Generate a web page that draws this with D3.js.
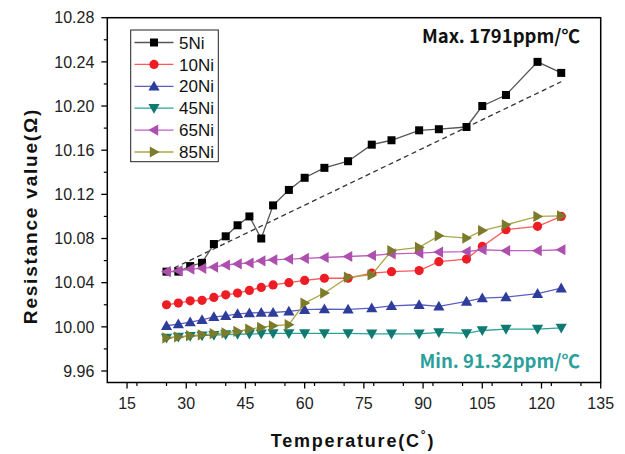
<!DOCTYPE html>
<html><head><meta charset="utf-8">
<script src="https://cdn.jsdelivr.net/npm/d3@7"></script>
<style>body{margin:0;background:#fff}svg{display:block}</style>
</head><body>
<script>
const temps = [25,28,31,34,37,40,43,46,49,52,56,60,65,71,77,82,89,94,101,105,111,119,125];
const ni5  = [10.050,10.050,10.055,10.058,10.075,10.082,10.092,10.100,10.080,10.110,10.124,10.135,10.144,10.150,10.165,10.169,10.178,10.179,10.181,10.200,10.210,10.240,10.230];
const ni10 = [10.020,10.0215,10.0236,10.024,10.0266,10.029,10.0306,10.033,10.0357,10.038,10.040,10.042,10.044,10.044,10.0487,10.050,10.051,10.059,10.0614,10.0728,10.088,10.091,10.100];
const ni20 = [10.001,10.0025,10.0043,10.0064,10.009,10.010,10.0118,10.0125,10.013,10.013,10.014,10.0155,10.016,10.0158,10.017,10.019,10.020,10.0185,10.023,10.026,10.027,10.030,10.035];
const ni45 = [9.990,9.9908,9.9915,9.992,9.9925,9.993,9.9933,9.9936,9.9938,9.994,9.994,9.994,9.994,9.994,9.9937,9.9937,9.9937,9.995,9.994,9.9967,9.998,9.998,9.999];
const ni65 = [10.050,10.0507,10.0523,10.053,10.0541,10.056,10.057,10.0578,10.0598,10.0607,10.0614,10.062,10.0628,10.0637,10.0646,10.0661,10.0668,10.0677,10.0682,10.0698,10.069,10.069,10.0698];
const ni85 = [9.990,9.9908,9.992,9.9928,9.9938,9.9945,9.9959,9.998,9.9995,10.001,10.002,10.0215,10.0306,10.045,10.047,10.069,10.072,10.0824,10.0804,10.0872,10.0924,10.100,10.1005];
const seriesNames = ["5Ni","10Ni","20Ni","45Ni","65Ni","85Ni"];
const fitLine = [[25,10.050],[125,10.222]];
const xTicks = [15,30,45,60,75,90,105,120,135];
const yTicks = [9.96,10.00,10.04,10.08,10.12,10.16,10.20,10.24,10.28];
const maxLabel = "Max. 1791ppm/℃";
const minLabel = "Min. 91.32ppm/℃";

const W=625,H=454;
const m={l:107.3,r:600.7,t:17.7,b:382.5};
const svg=d3.select("body").append("svg").attr("width",W).attr("height",H);
const x=d3.scaleLinear().domain([10,135]).range([m.l,m.r]);
const y=d3.scaleLinear().range([m.b,m.t]);
y.domain([9.96-(382.5-371)/((371-17.7)/0.32),10.28]);

const styles=[
 {data:ni5,line:"#555",fill:"#000",sym:"square"},
 {data:ni10,line:"#ff5a5a",fill:"#ee1c25",sym:"circle"},
 {data:ni20,line:"#5a5fc0",fill:"#2e3d9a",sym:"up"},
 {data:ni45,line:"#2aa39a",fill:"#0e7a72",sym:"down"},
 {data:ni65,line:"#c060c0",fill:"#ad4fad",sym:"left"},
 {data:ni85,line:"#a8a84a",fill:"#7b7b2b",sym:"right"}
].map((s,i)=>Object.assign(s,{name:seriesNames[i]}));

function marker(g,sym,fill){
  if(sym==="square") return g.append("rect").attr("x",-4).attr("y",-4).attr("width",8).attr("height",8).attr("fill",fill);
  if(sym==="circle") return g.append("circle").attr("r",4.6).attr("fill",fill);
  const s=5.6;
  let pts;
  if(sym==="up") pts=[[0,-s],[s,s*0.75],[-s,s*0.75]];
  if(sym==="down") pts=[[0,s],[s,-s*0.75],[-s,-s*0.75]];
  if(sym==="left") pts=[[-s,0],[s*0.75,-s],[s*0.75,s]];
  if(sym==="right") pts=[[s,0],[-s*0.75,-s],[-s*0.75,s]];
  return g.append("polygon").attr("points",pts.map(p=>p.join(",")).join(" ")).attr("fill",fill);
}

const font="'Liberation Sans',Arial,sans-serif";
const xMinor=d3.range(10,136,7.5).filter(v=>!xTicks.includes(v)&&v>10);
const yMinor=d3.range(9.98,10.28,0.04);
const gx=svg.append("g").attr("transform",`translate(0,${m.b})`);
xTicks.forEach(t=>{gx.append("line").attr("x1",x(t)).attr("x2",x(t)).attr("y1",0).attr("y2",6).attr("stroke","#000").attr("stroke-width",1.3);
 gx.append("text").attr("x",x(t)).attr("y",26).attr("text-anchor","middle").attr("font-family",font).attr("font-size",16).attr("fill","#222").text(t);});
xMinor.forEach(t=>gx.append("line").attr("x1",x(t)).attr("x2",x(t)).attr("y1",0).attr("y2",3.5).attr("stroke","#000").attr("stroke-width",1.2));
const gy=svg.append("g").attr("transform",`translate(${m.l},0)`);
yTicks.forEach(t=>{gy.append("line").attr("y1",y(t)).attr("y2",y(t)).attr("x1",0).attr("x2",-6).attr("stroke","#000").attr("stroke-width",1.3);
 gy.append("text").attr("x",-13).attr("y",y(t)).attr("dy","0.36em").attr("text-anchor","end").attr("font-family",font).attr("font-size",16).attr("fill","#222").text(t.toFixed(2));});
yMinor.forEach(t=>gy.append("line").attr("y1",y(t)).attr("y2",y(t)).attr("x1",0).attr("x2",-3.5).attr("stroke","#000").attr("stroke-width",1.2));

svg.append("rect").attr("x",m.l).attr("y",m.t).attr("width",m.r-m.l).attr("height",m.b-m.t).attr("fill","none").attr("stroke","#000").attr("stroke-width",1.5);

svg.append("line").attr("x1",x(fitLine[0][0])).attr("y1",y(fitLine[0][1])).attr("x2",x(fitLine[1][0])).attr("y2",y(fitLine[1][1]))
 .attr("stroke","#333").attr("stroke-width",1.3).attr("stroke-dasharray","5,3.5");

const line=d3.line().x((d,i)=>x(temps[i])).y(d=>y(d));
styles.forEach(s=>{
  svg.append("path").attr("d",line(s.data)).attr("fill","none").attr("stroke",s.line).attr("stroke-width",1.3);
  s.data.forEach((v,i)=>{const g=svg.append("g").attr("transform",`translate(${x(temps[i])},${y(v)})`);marker(g,s.sym,s.fill);});
});

svg.append("rect").attr("x",130.7).attr("y",30).attr("width",87.6).attr("height",131.7).attr("fill","#fff").attr("stroke","#222").attr("stroke-width",1);
styles.forEach((s,i)=>{
  const yy=42.5+i*21.9;
  svg.append("line").attr("x1",134.5).attr("x2",173.5).attr("y1",yy).attr("y2",yy).attr("stroke",s.line).attr("stroke-width",1.3);
  const g=svg.append("g").attr("transform",`translate(154,${yy})`);marker(g,s.sym,s.fill);
  svg.append("text").attr("x",179).attr("y",yy).attr("dy","0.36em").attr("font-family",font).attr("font-size",17).attr("fill","#111").text(s.name);
});

const kfont="'Noto Sans CJK KR','Noto Sans',sans-serif";
svg.append("text").attr("x",580).attr("y",43).attr("text-anchor","end").attr("font-family",kfont).attr("font-weight","bold").attr("font-size",18.5).attr("fill","#111").text(maxLabel);
svg.append("text").attr("x",580).attr("y",368).attr("text-anchor","end").attr("font-family",kfont).attr("font-weight","bold").attr("font-size",18.5).attr("fill","#2a9f9c").text(minLabel);

const xt=svg.append("text").attr("x",353).attr("y",447).attr("text-anchor","middle").attr("font-family",font).attr("font-weight","bold").attr("font-size",18).attr("letter-spacing",1.8).attr("fill","#111");
xt.append("tspan").text("Temperature(C");
xt.append("tspan").attr("dy",-8).attr("font-size",12).text("°");
xt.append("tspan").attr("dy",8).text(")");
svg.append("text").attr("transform","translate(37,216) rotate(-90)").attr("text-anchor","middle").attr("font-family",font).attr("font-weight","bold").attr("font-size",19).attr("letter-spacing",1.8).attr("fill","#111").text("Resistance value(Ω)");
</script>
</body></html>
